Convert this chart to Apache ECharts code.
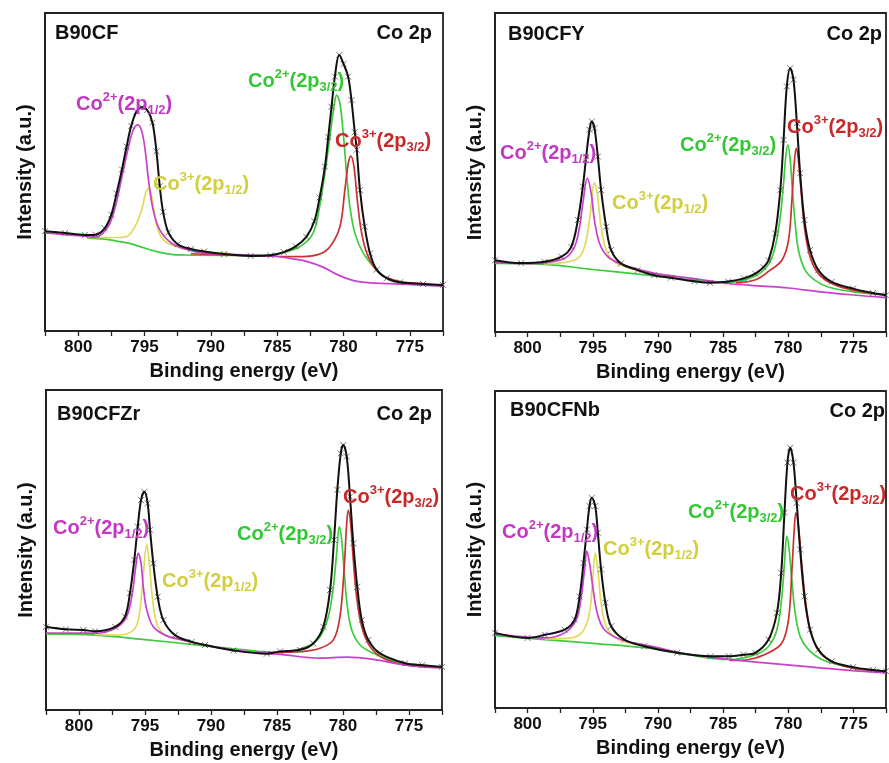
<!DOCTYPE html>
<html><head><meta charset="utf-8">
<script src="https://cdn.jsdelivr.net/npm/echarts@6/dist/echarts.min.js"></script>
<style>html,body{margin:0;padding:0;background:#fff}#c{width:889px;height:763px}</style>
</head><body><div id="c"></div>
<script>
// ---------- data (binding energy eV, intensity a.u. on a 0-100 scale) ----------
const sampleNames = ['B90CF', 'B90CFY', 'B90CFZr', 'B90CFNb'];
const xTickLabels = [800, 795, 790, 785, 780, 775];

// B90CF
const cfTotal = [[802.5,31.4],[801,30.8],[799.5,30.2],[798.7,30.3],[798,32.3],[797.5,36.6],[797.1,43.3],[796.7,50.8],[796.35,58.0],[796,64.5],[795.6,69.0],[795.2,70.4],[794.8,69.5],[794.4,65.5],[794.1,56.5],[793.85,45.5],[793.6,37.5],[793.2,31.0],[792.5,27.3],[791.5,25.8],[790.5,25.0],[789,24.2],[787,23.6],[785.5,23.8],[784.5,24.8],[783.6,26.6],[782.8,29.6],[782.2,34.5],[781.8,42.0],[781.4,51.7],[781.15,61.0],[780.9,70.5],[780.65,80.0],[780.32,86.8],[780,84.0],[779.65,80.0],[779.4,72.6],[779.15,62.5],[779,57.0],[778.76,44.3],[778.4,32.8],[778,24.4],[777.5,19.3],[776.75,16.6],[775.75,15.3],[774,14.8],[772.5,14.5]];
const cfCo2_12 = [[802.5,30.9],[801,30.3],[799.5,29.8],[798.7,29.5],[797.75,32.8],[797.2,39.1],[796.7,48.5],[796.2,58.0],[795.85,63.2],[795.5,64.8],[795.2,62.7],[794.95,56.9],[794.7,47.5],[794.35,38.1],[793.85,31.8],[792.95,27.6],[791.7,25.5],[790.4,24.4],[788,24.0],[785.5,23.6],[784.6,23.2],[782.8,21.9],[781.5,20.0],[780.5,17.8],[779.3,15.9],[778.2,15.2],[776.5,14.9],[774.5,14.5],[772.5,14.1]];
const cfCo3_12 = [[799.3,29.4],[797,29.4],[796.3,29.8],[795.72,32.8],[795.21,38.1],[794.92,43.3],[794.66,44.9],[794.41,41.2],[794.16,34.9],[793.83,30.2],[793.33,27.8],[792.2,26.0],[790.44,24.9],[788.5,24.4]];
const cfCo2_32 = [[799.3,29.2],[798,28.9],[797,28.2],[796,27.4],[795,26.1],[794,24.9],[793,24.1],[792,23.9],[789,23.8],[786,23.8],[784.8,24.4],[783.3,26.5],[782.3,30.7],[781.8,39.1],[781.4,49.6],[781.02,61.1],[780.72,70.5],[780.52,74.2],[780.27,71.6],[780.02,62.2],[779.77,49.6],[779.52,39.1],[779.14,30.7],[778.5,24.4],[777.5,19.2],[776.5,16.0],[775,14.9],[772.5,14.3]];
const cfCo3_32 = [[791.5,24.3],[788,23.8],[785,23.5],[783,23.4],[781.8,24.2],[781.02,26.5],[780.27,32.8],[779.9,44.3],[779.64,52.7],[779.44,55.0],[779.21,51.7],[778.96,41.2],[778.63,30.7],[778.14,23.4],[777.26,18.1],[776,15.8],[774,14.8],[772.5,14.4]];

// B90CFY
const cfyTotal = [[802.5,22.5],[800.5,21.6],[798.7,22.0],[797.4,23.6],[796.65,26.7],[796.14,35.1],[795.76,45.6],[795.5,55.0],[795.25,63.4],[795.07,66.0],[794.87,63.9],[794.61,55.0],[794.36,44.5],[793.97,33.0],[793.59,25.7],[792.83,21.5],[791.56,19.4],[790.29,17.8],[789,17.0],[787.2,15.9],[786,15.4],[784.6,15.8],[783.4,16.8],[782.53,18.3],[781.9,20.3],[781.51,22.5],[781.0,30.9],[780.61,44.5],[780.36,60.2],[780.11,77.0],[779.85,82.7],[779.6,79.1],[779.34,65.5],[779.09,49.8],[778.76,35.1],[778.33,25.7],[777.69,19.4],[776.67,15.7],[775.02,13.6],[773.5,12.2],[772.5,11.5]];
const cfyCo2_12 = [[802.5,21.8],[800,21.4],[798.68,21.7],[797.16,23.1],[796.4,26.7],[796.01,33.0],[795.76,40.3],[795.42,48.2],[795.12,43.5],[794.87,35.1],[794.48,27.8],[793.85,23.6],[792.83,21.3],[791.05,19.2],[790,18.2],[787,16.6],[784.6,15.2],[782,14.4],[780,13.8],[777.5,12.6],[775,11.6],[772.5,10.8]];
const cfyCo3_12 = [[798.7,21.3],[797.16,21.8],[796.14,23.1],[795.63,26.7],[795.25,35.1],[795.0,44.5],[794.87,46.8],[794.66,43.5],[794.36,33.0],[793.97,25.7],[793.34,22.0],[792.07,19.9],[790.3,18.4],[789,17.6]];
const cfyCo2_32 = [[802.5,21.5],[798.68,21.2],[795,19.6],[791,17.9],[788,16.6],[784.56,15.6],[782.53,17.6],[781.51,21.2],[781.0,26.7],[780.61,36.1],[780.36,46.6],[780.19,55.0],[780.03,58.7],[779.85,53.9],[779.68,44.5],[779.47,34.1],[779.22,25.7],[778.71,19.4],[777.94,16.2],[776.93,14.1],[775.02,12.6],[772.5,11.6]];
const cfyCo3_32 = [[784,15.4],[782.5,16.4],[781.51,19.0],[780.49,22.5],[779.98,28.8],[779.72,41.4],[779.54,52.9],[779.39,57.6],[779.22,53.9],[779.02,44.5],[778.76,33.0],[778.33,23.6],[777.69,18.3],[776.67,15.2],[775.02,13.1],[772.5,11.6]];

// B90CFZr
const cfzrTotal = [[802.5,26.0],[801,25.2],[799.67,25.0],[798.79,24.6],[797.27,26.0],[796.52,29.2],[796.14,36.5],[795.81,46.9],[795.55,57.3],[795.3,65.6],[795.05,68.2],[794.8,64.6],[794.62,56.3],[794.37,45.8],[794.04,35.4],[793.61,28.1],[792.73,23.4],[791.46,21.3],[790.45,20.3],[788.3,18.6],[785.77,17.6],[784.77,18.3],[783.26,18.8],[782.25,20.8],[781.49,26.0],[780.98,37.5],[780.68,53.1],[780.43,68.8],[780.17,80.2],[779.98,82.8],[779.72,79.2],[779.47,66.7],[779.22,52.1],[778.92,38.5],[778.58,28.1],[778.08,21.9],[777.2,17.7],[775.3,14.6],[774,14.0],[772.5,13.5]];
const cfzrCo2_12 = [[802.5,24.0],[800,24.0],[798.79,24.0],[797.27,25.5],[796.39,29.2],[795.96,36.5],[795.7,44.8],[795.51,49.0],[795.3,45.8],[795.13,38.5],[794.87,31.3],[794.37,26.0],[793.48,23.4],[792.22,21.9],[790.45,20.3],[788,18.6],[785.5,17.6],[784.77,17.4],[781.74,16.2],[779.7,16.5],[777.7,15.8],[775.3,14.1],[772.5,13.2]];
const cfzrCo3_12 = [[798.8,23.6],[797.27,23.4],[796.01,24.5],[795.51,28.1],[795.18,39.6],[794.87,51.6],[794.67,45.8],[794.45,35.4],[794.11,27.1],[793.48,23.4],[792.22,21.9],[790.5,20.4]];
const cfzrCo2_32 = [[802.5,23.8],[798.79,23.4],[795,22.0],[791,20.3],[788,19.0],[784.77,18.0],[782.75,19.8],[781.74,22.9],[781.11,29.2],[780.73,38.5],[780.48,49.0],[780.28,57.3],[780.1,53.1],[779.9,42.7],[779.67,32.3],[779.34,25.0],[778.71,20.3],[777.7,17.7],[776.44,15.6],[775.3,14.6],[772.5,13.4]];
const cfzrCo3_32 = [[785,18.0],[783.26,18.2],[781.74,19.3],[780.73,21.9],[780.23,29.2],[779.92,43.8],[779.72,58.3],[779.6,62.5],[779.42,58.3],[779.22,46.9],[778.97,35.4],[778.58,26.0],[777.95,19.8],[776.95,16.2],[775.3,14.1],[772.5,13.2]];

// B90CFNb
const cfnbTotal = [[802.5,23.7],[800,22.1],[798.68,23.1],[797.16,24.7],[796.39,27.9],[796.01,35.2],[795.71,45.8],[795.45,56.3],[795.25,63.7],[795.07,66.3],[794.81,63.7],[794.61,55.3],[794.36,43.7],[794.03,33.2],[793.59,25.8],[792.58,21.6],[791.06,19.5],[788.52,17.4],[785.97,16.3],[784.56,16.3],[783.43,16.8],[782.53,17.4],[781.51,21.6],[780.87,30.0],[780.54,42.6],[780.29,61.6],[780.06,77.4],[779.85,82.1],[779.6,77.4],[779.35,64.7],[779.09,50.0],[778.76,35.2],[778.33,24.7],[777.69,18.4],[776.67,14.7],[775.02,12.9],[773.5,12.0],[772.5,11.6]];
const cfnbCo2_12 = [[802.5,23.2],[800,22.4],[798.68,22.1],[797.16,23.7],[796.26,27.9],[795.88,35.2],[795.63,43.7],[795.45,49.5],[795.25,45.8],[795.0,38.4],[794.66,30.0],[794.1,24.7],[792.83,21.6],[790.29,19.3],[788,17.2],[786,16.1],[784,15.1],[782,14.3],[779,13.2],[776,12.1],[772.5,11.1]];
const cfnbCo3_12 = [[798.7,21.8],[796.65,22.1],[795.76,24.2],[795.25,30.0],[795.0,40.5],[794.81,48.9],[794.61,43.7],[794.36,33.2],[793.97,25.8],[793.21,22.1],[792.07,20.5],[790.5,19.3]];
const cfnbCo2_32 = [[802.5,22.8],[798.68,21.6],[795,20.4],[791,19.0],[788,17.0],[784.56,15.3],[782.53,16.8],[781.51,19.5],[780.87,24.7],[780.49,35.2],[780.29,45.8],[780.11,54.2],[779.93,50.0],[779.73,40.5],[779.47,30.0],[779.09,22.6],[778.45,18.4],[777.44,15.3],[776.16,13.7],[775.02,12.6],[772.5,11.4]];
const cfnbCo3_32 = [[784.5,15.0],[783.03,15.3],[781.51,17.4],[780.49,20.5],[779.98,27.9],[779.73,42.6],[779.54,56.3],[779.42,61.6],[779.22,57.3],[778.97,45.8],[778.66,33.2],[778.25,23.7],[777.56,17.4],[776.42,14.2],[775.02,12.6],[772.5,11.5]];

// ---------- assembly ----------
const panelData = [
  {total: cfTotal,   mag: cfCo2_12,   yel: cfCo3_12,   grn: cfCo2_32,   red: cfCo3_32},
  {total: cfyTotal,  mag: cfyCo2_12,  yel: cfyCo3_12,  grn: cfyCo2_32,  red: cfyCo3_32},
  {total: cfzrTotal, mag: cfzrCo2_12, yel: cfzrCo3_12, grn: cfzrCo2_32, red: cfzrCo3_32},
  {total: cfnbTotal, mag: cfnbCo2_12, yel: cfnbCo3_12, grn: cfnbCo2_32, red: cfnbCo3_32}
];

const FONT = '"Liberation Sans", Arial, Helvetica, sans-serif';
const COL = {mag: '#cc3fcc', yel: '#dedb5a', grn: '#3dcc3d', red: '#cc3030', black: '#111111'};
const TXT = {mag: '#c238c2', yel: '#d2cf3e', grn: '#33c833', red: '#c82828'};

const grids = [
  {left: 45,  top: 13,  width: 398, height: 318},
  {left: 495, top: 13,  width: 393, height: 319},
  {left: 46,  top: 390, width: 396, height: 320},
  {left: 495, top: 391, width: 393, height: 317}
];
const labelPos = [
  {title: [55, 33],  co2p: [432, 33],  mag: [76, 104],  yel: [153, 184], grn: [248, 81],  red: [335, 141]},
  {title: [508, 34], co2p: [882, 34],  mag: [500, 153], yel: [612, 203], grn: [680, 145], red: [787, 127]},
  {title: [57, 414], co2p: [432, 414], mag: [53, 528],  yel: [162, 581], grn: [237, 534], red: [343, 497]},
  {title: [510, 410],co2p: [885, 411], mag: [502, 532], yel: [603, 549], grn: [688, 512], red: [790, 494]}
];

const xAxes = [], yAxes = [], series = [], graphics = [];
grids.forEach((g, i) => {
  xAxes.push({
    gridIndex: i, type: 'value', inverse: true, min: 772.5, max: 802.5, interval: 2.5,
    axisLine: {show: true, onZero: false, lineStyle: {color: '#222', width: 1.8}},
    axisTick: {show: true, length: 5, lineStyle: {color: '#222', width: 1.3}},
    axisLabel: {
      margin: 8, color: '#111', fontSize: 17, fontWeight: 'bold', fontFamily: FONT,
      formatter: v => (xTickLabels.indexOf(Math.round(v * 10) / 10) >= 0 ? String(v) : '')
    },
    splitLine: {show: false},
    name: 'Binding energy (eV)', nameLocation: 'middle', nameGap: 30,
    nameTextStyle: {color: '#111', fontSize: 20, fontWeight: 'bold', fontFamily: FONT}
  });
  yAxes.push({
    gridIndex: i, type: 'value', min: 0, max: 100,
    axisLine: {show: true, onZero: false, lineStyle: {color: '#222', width: 1.8}},
    axisTick: {show: false}, axisLabel: {show: false}, splitLine: {show: false},
    name: 'Intensity (a.u.)', nameLocation: 'middle', nameGap: 10,
    nameTextStyle: {color: '#111', fontSize: 20, fontWeight: 'bold', fontFamily: FONT}
  });
  const d = panelData[i];
  const line = (data, color, w, z) => ({
    type: 'line', xAxisIndex: i, yAxisIndex: i, data: data, showSymbol: false,
    smooth: 0.35, silent: true, z: z,
    lineStyle: {color: color, width: w}
  });
  series.push(line(d.grn, COL.grn, 1.7, 2));
  series.push(line(d.yel, COL.yel, 1.7, 3));
  series.push(line(d.red, COL.red, 1.7, 4));
  series.push(line(d.mag, COL.mag, 1.7, 5));
  series.push({
    type: 'scatter', xAxisIndex: i, yAxisIndex: i, data: d.total, silent: true, z: 6,
    symbol: 'path://M0 0L10 10M10 0L0 10', symbolSize: 6,
    itemStyle: {color: 'transparent', borderColor: '#555', borderWidth: 1}
  });
  series.push(line(d.total, COL.black, 2, 7));

  const lp = labelPos[i];
  const rich = (c) => ({
    m: {fontSize: 20, fontWeight: 'bold', fontFamily: FONT, fill: c, lineHeight: 26},
    sp: {fontSize: 13, fontWeight: 'bold', fontFamily: FONT, fill: c, verticalAlign: 'top', lineHeight: 13},
    sb: {fontSize: 13, fontWeight: 'bold', fontFamily: FONT, fill: c, verticalAlign: 'bottom', lineHeight: 13}
  });
  const peakText = (pos, charge, orbital, c) => ({
    type: 'text', x: pos[0], y: pos[1], z: 100, silent: true,
    style: {text: '{m|Co}{sp|' + charge + '}{m|(2p}{sb|' + orbital + '}{m|)}',
            rich: rich(c), align: 'left', verticalAlign: 'middle'}
  });
  graphics.push({
    type: 'text', x: lp.title[0], y: lp.title[1], z: 100, silent: true,
    style: {text: sampleNames[i], fill: '#111', font: 'bold 20px ' + FONT, align: 'left', verticalAlign: 'middle'}
  });
  graphics.push({
    type: 'text', x: lp.co2p[0], y: lp.co2p[1], z: 100, silent: true,
    style: {text: 'Co 2p', fill: '#111', font: 'bold 20px ' + FONT, align: 'right', verticalAlign: 'middle'}
  });
  graphics.push(peakText(lp.mag, '2+', '1/2', TXT.mag));
  graphics.push(peakText(lp.yel, '3+', '1/2', TXT.yel));
  graphics.push(peakText(lp.grn, '2+', '3/2', TXT.grn));
  graphics.push(peakText(lp.red, '3+', '3/2', TXT.red));
});

const chart = echarts.init(document.getElementById('c'), null, {renderer: 'canvas'});
chart.setOption({
  animation: false,
  backgroundColor: '#ffffff',
  grid: grids.map(g => Object.assign({show: true, borderColor: '#222', borderWidth: 1.8, backgroundColor: 'transparent'}, g)),
  xAxis: xAxes,
  yAxis: yAxes,
  series: series,
  graphic: graphics
});
</script>
</body></html>
